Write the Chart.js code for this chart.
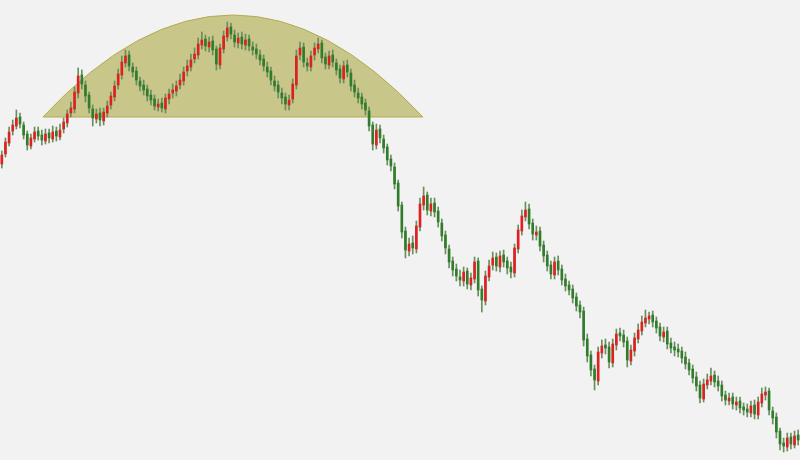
<!DOCTYPE html>
<html lang="es">
<head>
<meta charset="utf-8">
<title>Techo redondeado</title>
<script src="https://cdn.jsdelivr.net/npm/chart.js@4.4.1/dist/chart.umd.min.js"></script>
<style>
  html, body { margin: 0; padding: 0; background: #f2f2f2; }
  #wrap { position: relative; width: 800px; height: 460px; }
</style>
</head>
<body>
<div id="wrap"><canvas id="grafica"></canvas></div>
<script>
// Velas (una por sesion, de izquierda a derecha).
const aperturas = [
  296, 306, 317, 329, 334, 343, 335, 326, 314, 321,
  329, 325, 319, 327, 321, 329, 323, 331, 337, 347,
  351, 367, 385, 375, 365, 351, 341, 347, 339, 347,
  355, 363, 375, 385, 397, 405, 393, 389, 379, 375,
  371, 365, 361, 353, 357, 351, 361, 367, 369, 375,
  379, 389, 393, 401, 405, 415, 421, 413, 419, 411,
  395, 411, 423, 433, 425, 417, 423, 415, 421, 413,
  411, 405, 401, 393, 389, 379, 375, 367, 363, 355,
  361, 375, 405, 413, 397, 393, 405, 411, 417, 403,
  395, 405, 397, 391, 381, 395, 387, 375, 367, 363,
  357, 349, 335, 315, 331, 321, 313, 301, 293, 277,
  255, 229, 209, 217, 211, 233, 255, 265, 249, 257,
  249, 237, 225, 211, 199, 191, 183, 179, 189, 175,
  181, 199, 171, 159, 183, 195, 203, 193, 205, 199,
  193, 187, 211, 229, 243, 251, 237, 225, 229, 215,
  205, 195, 185, 199, 191, 181, 175, 171, 163, 155,
  149, 121, 105, 91, 79, 107, 115, 113, 97, 115,
  127, 125, 119, 99, 109, 121, 129, 137, 141, 145,
  139, 133, 123, 129, 117, 113, 111, 109, 103, 97,
  91, 83, 75, 61, 75, 79, 85, 79, 75, 65,
  59, 63, 55, 59, 53, 51, 47, 55, 45, 57,
  65, 69, 49, 43, 29, 17, 13, 23, 15, 25
];

const maximos = [
  309, 322, 333, 340, 350, 347, 338, 329, 326, 333,
  333, 330, 331, 331, 334, 333, 336, 342, 350, 358,
  373, 392, 390, 379, 368, 355, 351, 352, 352, 359,
  368, 379, 391, 404, 410, 409, 397, 393, 383, 380,
  375, 370, 365, 361, 362, 366, 371, 376, 379, 386,
  393, 400, 406, 412, 422, 428, 425, 423, 424, 414,
  416, 429, 438, 437, 430, 427, 428, 426, 425, 418,
  416, 410, 405, 398, 393, 384, 379, 372, 367, 365,
  381, 410, 418, 417, 402, 409, 417, 422, 420, 407,
  409, 410, 401, 395, 399, 400, 391, 380, 372, 367,
  361, 353, 338, 336, 335, 325, 316, 305, 297, 280,
  258, 233, 222, 224, 239, 262, 273, 268, 262, 262,
  253, 241, 229, 215, 203, 196, 190, 193, 192, 187,
  203, 202, 174, 189, 200, 208, 207, 209, 210, 203,
  198, 216, 235, 250, 258, 256, 241, 234, 233, 219,
  209, 199, 203, 204, 195, 186, 179, 175, 167, 159,
  153, 126, 109, 95, 113, 120, 121, 118, 121, 131,
  132, 130, 123, 115, 127, 136, 144, 150, 148, 149,
  143, 137, 133, 133, 122, 118, 116, 113, 108, 101,
  95, 88, 79, 81, 86, 92, 89, 84, 79, 69,
  67, 67, 63, 63, 57, 56, 59, 60, 63, 72,
  73, 72, 53, 47, 32, 22, 27, 27, 29, 30
];

const minimos = [
  292, 303, 314, 325, 331, 332, 321, 310, 311, 318,
  320, 315, 316, 317, 318, 319, 320, 327, 333, 343,
  347, 362, 371, 358, 347, 334, 337, 334, 335, 343,
  351, 359, 371, 381, 393, 389, 383, 375, 369, 365,
  359, 355, 350, 349, 348, 347, 356, 362, 364, 371,
  375, 384, 389, 397, 401, 411, 409, 408, 405, 390,
  391, 407, 419, 421, 413, 412, 411, 410, 409, 405,
  401, 395, 389, 383, 375, 369, 362, 356, 350, 350,
  357, 371, 400, 393, 389, 389, 400, 407, 397, 391,
  391, 393, 385, 377, 377, 383, 369, 363, 357, 351,
  345, 329, 310, 311, 317, 307, 295, 289, 271, 249,
  222, 202, 204, 206, 207, 229, 250, 245, 244, 243,
  233, 219, 206, 192, 184, 179, 174, 174, 171, 170,
  177, 164, 148, 155, 179, 190, 189, 188, 193, 186,
  182, 183, 207, 225, 239, 231, 220, 220, 209, 198,
  189, 181, 181, 185, 175, 169, 165, 157, 149, 142,
  114, 98, 84, 70, 75, 102, 106, 92, 93, 110,
  119, 113, 93, 95, 104, 117, 125, 133, 136, 133,
  127, 119, 118, 111, 107, 104, 103, 97, 91, 85,
  77, 69, 57, 58, 71, 75, 73, 69, 59, 55,
  55, 51, 50, 47, 45, 43, 43, 41, 41, 53,
  60, 45, 36, 22, 10, 8, 9, 11, 12, 15
];

const cierres = [
  305, 318, 328, 335, 342, 336, 325, 315, 322, 328,
  324, 320, 326, 322, 328, 324, 330, 338, 346, 352,
  368, 384, 376, 364, 352, 342, 346, 340, 348, 354,
  364, 374, 386, 398, 404, 394, 388, 380, 374, 370,
  364, 360, 354, 356, 352, 362, 366, 370, 374, 380,
  388, 394, 400, 406, 416, 420, 414, 418, 410, 396,
  412, 424, 432, 426, 418, 422, 416, 420, 414, 410,
  406, 400, 394, 388, 380, 374, 368, 362, 356, 360,
  376, 404, 412, 398, 394, 404, 412, 416, 402, 396,
  404, 398, 390, 382, 394, 388, 374, 368, 362, 356,
  350, 334, 316, 330, 322, 312, 300, 294, 276, 254,
  228, 210, 216, 212, 234, 256, 264, 250, 256, 248,
  238, 224, 212, 198, 190, 184, 180, 188, 176, 182,
  198, 170, 160, 184, 194, 202, 194, 204, 198, 192,
  188, 212, 230, 244, 250, 236, 226, 228, 214, 204,
  194, 186, 198, 190, 180, 174, 170, 162, 154, 148,
  120, 104, 90, 80, 108, 114, 112, 98, 116, 126,
  124, 118, 100, 110, 122, 130, 138, 142, 144, 138,
  132, 124, 128, 116, 112, 110, 108, 102, 96, 90,
  82, 74, 62, 76, 80, 84, 78, 74, 64, 60,
  62, 56, 58, 52, 50, 48, 54, 46, 58, 66,
  68, 50, 42, 28, 16, 14, 22, 16, 24, 20
];

// Techo redondeado: vela inicial/final (fraccion) y precios de base y cima.
const techoInicio = 11.3;
const techoFin = 115.8;
const techoBase = 343;
const techoCima = 445;

const ROJO = "#dd2020";
const VERDE = "#2f7d2a";
const MECHA = "#6a8d60";

const etiquetas = cierres.map((_, i) => i + 1);
const colores = cierres.map((c, i) => (c >= aperturas[i] ? ROJO : VERDE));

const techo = {
  id: "techo",
  beforeDatasetsDraw(chart) {
    const { ctx, scales } = chart;
    const x0 = scales.x.getPixelForValue(techoInicio);
    const x1 = scales.x.getPixelForValue(techoFin);
    const yb = scales.y.getPixelForValue(techoBase);
    const yc = scales.y.getPixelForValue(techoCima);
    ctx.save();
    ctx.beginPath();
    ctx.moveTo(x0, yb);
    // parabola: el punto de control queda al doble de la altura de la cima
    ctx.quadraticCurveTo((x0 + x1) / 2, 2 * yc - yb, x1, yb);
    ctx.closePath();
    ctx.fillStyle = "#c9c68a";
    ctx.fill();
    ctx.strokeStyle = "#b2ab55";
    ctx.lineWidth = 1;
    ctx.stroke();
    ctx.restore();
  }
};

new Chart(document.getElementById("grafica"), {
  type: "bar",
  data: {
    labels: etiquetas,
    datasets: [
      {
        label: "mecha",
        data: minimos.map((l, i) => [l, maximos[i]]),
        backgroundColor: MECHA,
        barThickness: 1,
        grouped: false,
        order: 1
      },
      {
        label: "cuerpo",
        data: aperturas.map((o, i) => [o, cierres[i]]),
        backgroundColor: colores,
        barThickness: 2,
        grouped: false,
        order: 0
      }
    ]
  },
  options: {
    responsive: true,
    maintainAspectRatio: false,
    animation: false,
    layout: { padding: 0 },
    plugins: {
      legend: { display: false },
      tooltip: { enabled: false }
    },
    scales: {
      x: { display: false, offset: true },
      y: { display: false, min: 0, max: 460 }
    }
  },
  plugins: [techo]
});
</script>
</body>
</html>
